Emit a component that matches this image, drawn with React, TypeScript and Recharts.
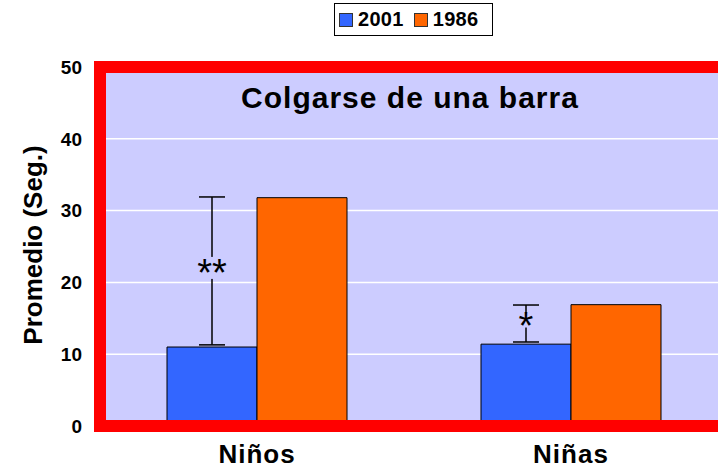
import React from "react";
import {
  BarChart,
  Bar,
  XAxis,
  YAxis,
  CartesianGrid,
  Legend,
  ErrorBar,
  LabelList,
  ReferenceArea,
} from "recharts";

const categories = ["Niños", "Niñas"];
const values2001 = [11.0, 11.4];
const values1986 = [31.8, 16.9];
// ends of the whiskers drawn on the 2001 bars
const whiskerLow2001 = [11.3, 11.7];
const whiskerHigh2001 = [31.9, 16.85];
const marks2001 = ["**", "*"];
const yTicks = [0, 10, 20, 30, 40, 50];
const title = "Colgarse de una barra";

const FONT = "'Liberation Sans', Arial, Helvetica, sans-serif";
const BLUE = "#3366FF";
const ORANGE = "#FF6600";
const PLOT_BG = "#CCCCFF";

const chartData = categories.map((name, i) => ({
  name,
  v2001: values2001[i],
  v1986: values1986[i],
  err2001: [values2001[i] - whiskerLow2001[i], whiskerHigh2001[i] - values2001[i]],
}));

const renderMark = (props: any) => {
  const { x, y, width, height, index } = props;
  const v = values2001[index];
  const pxPer = height / v;
  const base = y + height;
  const mid = (whiskerLow2001[index] + whiskerHigh2001[index]) / 2;
  const cy = base - mid * pxPer - 3;
  const cx = x + width / 2;
  const span = (whiskerHigh2001[index] - whiskerLow2001[index]) * pxPer;
  const gap = Math.min(22, span * 0.38);
  const text = marks2001[index];
  const boxW = text.length * 15 + 2;
  return (
    <g>
      <rect x={cx - boxW / 2} y={cy - gap / 2} width={boxW} height={gap} fill={PLOT_BG} />
      <text
        x={cx}
        y={cy + 18}
        textAnchor="middle"
        fontFamily={FONT}
        fontSize={38}
        fill="#000"
      >
        {text}
      </text>
    </g>
  );
};

const renderTitle = (props: any) => {
  const { viewBox } = props;
  return (
    <text
      x={viewBox.x + viewBox.width / 2 - 4}
      y={108}
      textAnchor="middle"
      fontFamily={FONT}
      fontWeight="bold"
      fontSize={30}
      letterSpacing={1}
      fill="#000"
    >
      {title}
    </text>
  );
};

const renderLegend = () => (
  <div
    style={{
      boxSizing: "border-box",
      width: 159,
      height: 33,
      border: "1px solid #000",
      background: "#fff",
      display: "flex",
      alignItems: "center",
      paddingLeft: 4,
      fontFamily: FONT,
      fontWeight: "bold",
      fontSize: 20,
      letterSpacing: 0.3,
      color: "#000",
    }}
  >
    {[
      { label: "2001", color: BLUE },
      { label: "1986", color: ORANGE },
    ].map((item, i) => (
      <span
        key={item.label}
        style={{ display: "flex", alignItems: "center", marginLeft: i === 0 ? 0 : 10 }}
      >
        <span
          style={{
            display: "inline-block",
            boxSizing: "border-box",
            width: 14,
            height: 14,
            background: item.color,
            border: "1px solid #333",
            marginRight: 5,
          }}
        />
        {item.label}
      </span>
    ))}
  </div>
);

const renderYLabel = () => (
  <text
    x={33}
    y={245}
    transform="rotate(-90, 33, 245)"
    textAnchor="middle"
    dy="0.35em"
    fontFamily={FONT}
    fontWeight="bold"
    fontSize={26}
    fill="#000"
  >
    Promedio (Seg.)
  </text>
);

export default function App() {
  return (
    <div
      style={{
        position: "absolute",
        left: 0,
        top: 0,
        width: 718,
        height: 470,
        overflow: "hidden",
        background: "#fff",
      }}
    >
      <BarChart
        width={740}
        height={470}
        data={chartData}
        margin={{ top: 67, right: 12, bottom: 0, left: 0 }}
        barCategoryGap={67}
        barGap={0}
      >
        <CartesianGrid vertical={false} stroke="#fff" strokeWidth={1.5} fill={PLOT_BG} />
        <XAxis
          dataKey="name"
          height={44}
          axisLine={false}
          tickLine={false}
          tickSize={0}
          tickMargin={19}
          tick={{ fontFamily: FONT, fontWeight: "bold", fontSize: 26, fill: "#000", letterSpacing: 1 }}
          interval={0}
        />
        <YAxis
          width={100}
          domain={[0, 50]}
          ticks={yTicks}
          axisLine={false}
          tickLine={false}
          tickSize={0}
          tickMargin={18}
          tick={{ fontFamily: FONT, fontWeight: "bold", fontSize: 19, fill: "#000" }}
          label={renderYLabel}
        />
        <Legend
          layout="horizontal"
          verticalAlign="middle"
          align="center"
          content={renderLegend}
          wrapperStyle={{ top: 3, left: 334, width: 159, height: 33 }}
        />
        <Bar
          dataKey="v2001"
          name="2001"
          fill={BLUE}
          stroke="#000"
          strokeWidth={1}
          isAnimationActive={false}
        >
          <ErrorBar dataKey="err2001" width={13} stroke="#000" strokeWidth={1.5} direction="y" />
          <LabelList dataKey="v2001" content={renderMark} />
        </Bar>
        <Bar
          dataKey="v1986"
          name="1986"
          fill={ORANGE}
          stroke="#000"
          strokeWidth={1}
          isAnimationActive={false}
        />
        <ReferenceArea
          y1={0}
          y2={50}
          fill="none"
          fillOpacity={0}
          stroke="#FF0000"
          strokeWidth={12}
          ifOverflow="visible"
          zIndex={1000}
          label={renderTitle}
        />
      </BarChart>
    </div>
  );
}
